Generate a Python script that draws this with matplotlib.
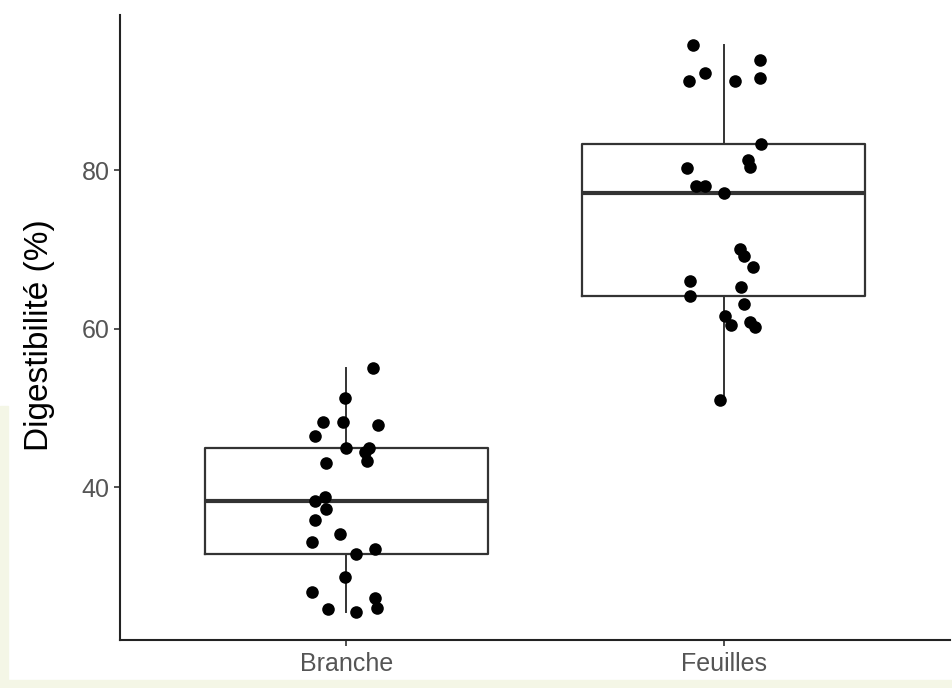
import numpy as np
import matplotlib.pyplot as plt
from matplotlib.patches import Rectangle

# categories and digestibility values
groups = ['Branche', 'Feuilles']
branche = [55.1, 51.3, 48.2, 48.2, 47.8, 46.5, 44.9, 45.0, 44.4, 43.3, 43.0,
           38.3, 38.7, 37.2, 35.9, 34.1, 33.1, 32.2, 31.5, 28.6, 26.8, 26.0,
           24.8, 24.6, 24.2]
feuilles = [95.9, 94.0, 92.3, 91.3, 91.3, 91.7, 83.4, 81.3, 80.5, 80.3, 78.0,
            78.0, 77.1, 70.1, 69.2, 67.8, 66.0, 65.3, 64.2, 63.1, 61.6, 60.5,
            60.9, 60.2, 51.0]
# horizontal jitter of each point (in category units)
jit_branche = [0.070, -0.003, -0.063, -0.010, 0.085, -0.083, 0.0, 0.061, 0.050,
               0.055, -0.053, -0.083, -0.057, -0.053, -0.083, -0.018, -0.092,
               0.075, 0.025, -0.003, -0.092, 0.075, 0.081, -0.048, 0.025]
jit_feuilles = [-0.082, 0.095, -0.049, -0.093, 0.029, 0.095, 0.099, 0.065,
                0.069, -0.098, -0.074, -0.049, 0.0, 0.043, 0.053, 0.077, -0.088,
                0.045, -0.088, 0.053, 0.004, 0.019, 0.069, 0.084, -0.009]
yticks = [40, 60, 80]

fig = plt.figure(figsize=(9.52, 6.88), dpi=100)
# faint tinted strips of the screenshot
fig.patches.append(Rectangle((0, 0), 1, 0.012, transform=fig.transFigure,
                             color='#f4f6e6', zorder=0))
fig.patches.append(Rectangle((0, 0), 0.008, 0.41, transform=fig.transFigure,
                             color='#f4f6e6', zorder=0))
ax = fig.add_axes([0.126, 0.0698, 0.872, 0.908])

data = [branche, feuilles]
pos = [1, 2]
ax.boxplot(data, positions=pos, widths=0.75, whis=1.5, showfliers=False,
           showcaps=False,
           boxprops=dict(color='#333333', linewidth=1.6),
           whiskerprops=dict(color='#333333', linewidth=1.4),
           medianprops=dict(color='#333333', linewidth=3.0))

for p, vals, jit in zip(pos, data, [jit_branche, jit_feuilles]):
    ax.scatter(np.array(jit) + p, vals, s=82, color='black', zorder=3,
               linewidths=0)

ax.set_xlim(0.4, 2.6)
ax.set_ylim(20.7, 99.6)
ax.set_xticks(pos)
ax.set_xticklabels(groups)
ax.set_yticks(yticks)
for s in ['top', 'right']:
    ax.spines[s].set_visible(False)
for s in ['left', 'bottom']:
    ax.spines[s].set_color('#222222')
    ax.spines[s].set_linewidth(1.5)
ax.tick_params(axis='both', direction='out', length=4, width=1.2,
               color='#333333', labelcolor='#555555', labelsize=18)
for lab in ax.get_xticklabels() + ax.get_yticklabels():
    lab.set_fontfamily(['Liberation Sans Narrow', 'Liberation Sans'])
ax.tick_params(axis='x', pad=5)

fig.text(0.042, 0.513, 'Digestibilité (%)', rotation=90, ha='center',
         va='center', fontsize=24, color='black', family='Liberation Sans')

fig.savefig('out.png', dpi=100)
